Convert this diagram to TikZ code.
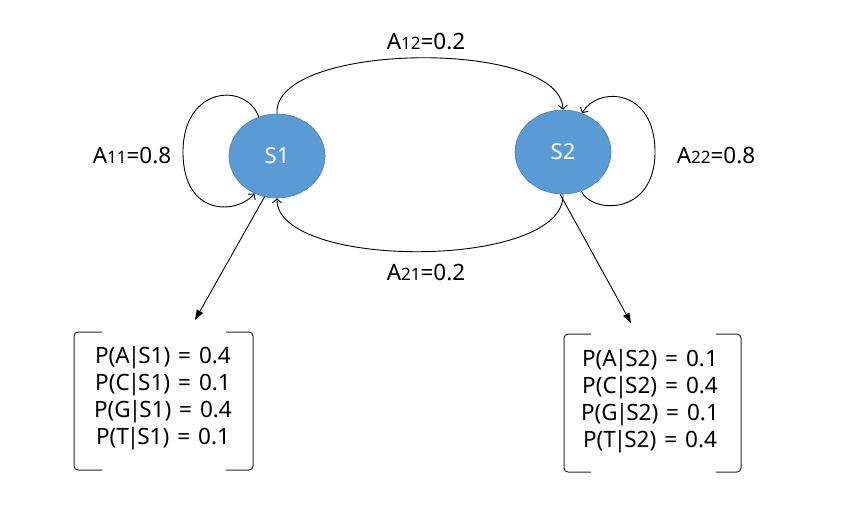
\documentclass[tikz,border=0pt]{standalone}
\usepackage{fontspec}
\setmainfont{Noto Sans}
\usetikzlibrary{shapes.geometric,arrows.meta,calc}
\definecolor{stfill}{HTML}{5B9BD5}
\definecolor{stedge}{HTML}{4A7EB0}
\newcommand{\lbl}[2]{A{\fontsize{17}{17}\selectfont #1}=#2}
\newcommand{\cnd}[3]{P(#1\kern-2pt|\kern-2pt#2)\hspace{8pt}=\hspace{8pt}#3}
\tikzset{
  state/.style={ellipse, fill=stfill, draw=stedge, line width=0.6pt,
    minimum width=96pt, minimum height=84pt, inner sep=0pt,
    text=white, font=\fontsize{22}{26}\selectfont},
  trans/.style={line width=0.9pt, -{Straight Barb[length=4pt,width=9pt,line width=0.9pt]}},
  emit/.style={line width=0.9pt, -{Triangle[length=10pt,width=7pt]}},
  lab/.style={font=\fontsize{22.5}{26}\selectfont, inner sep=0pt},
  probs/.style={font=\fontsize{22.5}{27}\selectfont, align=center, inner sep=0pt},
  bracket/.style={line width=1pt, draw=black!85, rounded corners=4pt}
}
\begin{document}
\begin{tikzpicture}[x=1pt,y=-1pt]
\useasboundingbox (0,0) rectangle (848,527);

% hidden states
\node[state] (s1) at (277,156) {S1};
\node[state] (s2) at (563,152) {S2};

% self transitions
\draw[trans] (s1.115) .. controls (246,82) and (183,86) .. (183,152)
  .. controls (183,218) and (238,214) .. (s1.239);
\draw[trans] (s2.295) .. controls (592,214) and (655,216) .. (655,152)
  .. controls (655,88) and (598,86) .. (s2.64);

% transitions between the states
\draw[trans] (s1.north) .. controls (272,42) and (560,38) .. (s2.north);
\draw[trans] (s2.south) .. controls (566,270) and (276,270) .. (s1.south);

% transition labels
\node[lab] (a12) at (426,42) {\lbl{12}{0.2}};
\node[lab] (a21) at (426,272) {\lbl{21}{0.2}};
\node[lab] (a11) at (132,155) {\lbl{11}{0.8}};
\node[lab] (a22) at (716,155) {\lbl{22}{0.8}};

% emission tables
\node[probs] (e1) at (163,398) {\cnd{A}{S1}{0.4}\\\cnd{C}{S1}{0.1}\\\cnd{G}{S1}{0.4}\\\cnd{T}{S1}{0.1}};
\node[probs] (e2) at (650,401) {\cnd{A}{S2}{0.1}\\\cnd{C}{S2}{0.4}\\\cnd{G}{S2}{0.1}\\\cnd{T}{S2}{0.4}};

\draw[bracket] (102,332) -- (74,332) -- (74,470) -- (102,470);
\draw[bracket] (226,332) -- (253,332) -- (253,470) -- (226,470);
\draw[bracket] (591,334) -- (564,334) -- (564,472) -- (591,472);
\draw[bracket] (716,334) -- (741,334) -- (741,472) -- (716,472);

% emission arrows
\coordinate (t1) at (195,320);
\coordinate (t2) at (631,323);
\draw[emit] (s1.253) -- (t1);
\draw[emit] (s2.266) -- (t2);
\end{tikzpicture}
\end{document}
